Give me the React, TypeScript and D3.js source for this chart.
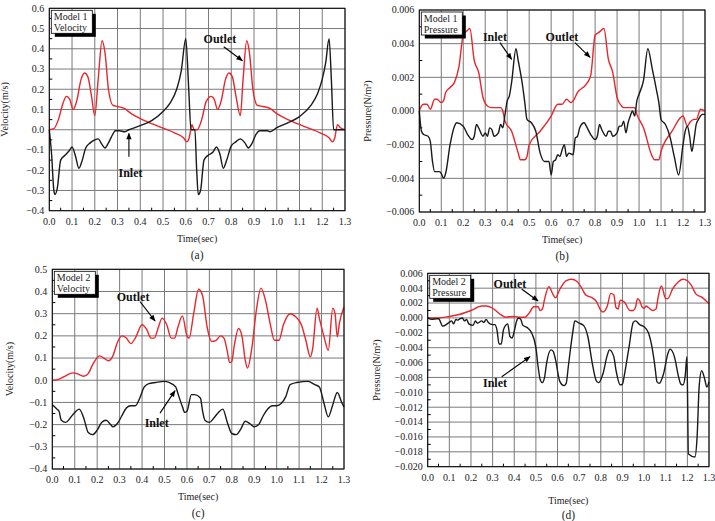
import React from "react";
import * as d3 from "d3";

type Pt = [number, number];

const timeTicks = [0, 0.1, 0.2, 0.3, 0.4, 0.5, 0.6, 0.7, 0.8, 0.9, 1.0, 1.1, 1.2, 1.3];
const velTicksA = [-0.4, -0.3, -0.2, -0.1, 0, 0.1, 0.2, 0.3, 0.4, 0.5, 0.6];
const velTicksC = [-0.4, -0.3, -0.2, -0.1, 0, 0.1, 0.2, 0.3, 0.4, 0.5];
const presTicksB = [-0.006, -0.004, -0.002, 0, 0.002, 0.004, 0.006];
const presTicksD = [
  -0.02, -0.018, -0.016, -0.014, -0.012, -0.01, -0.008, -0.006, -0.004, -0.002, 0, 0.002, 0.004, 0.006,
];

// (a) Model 1 velocity
const aOutlet: Pt[] = [
  [0, 0], [0.02, 0.005], [0.04, 0.05], [0.06, 0.13], [0.075, 0.165], [0.09, 0.15], [0.105, 0.1],
  [0.12, 0.14], [0.14, 0.25], [0.155, 0.28], [0.17, 0.26], [0.185, 0.17], [0.2, 0.07], [0.215, 0.25],
  [0.232, 0.44], [0.245, 0.38], [0.26, 0.2], [0.28, 0.12], [0.3, 0.115], [0.33, 0.105], [0.36, 0.08],
  [0.4, 0.055], [0.45, 0.03], [0.5, 0.008], [0.55, -0.015], [0.59, -0.04], [0.605, -0.06], [0.615, -0.04],
  [0.627, 0.025], [0.637, 0], [0.65, 0], [0.67, 0.05], [0.69, 0.14], [0.712, 0.165], [0.725, 0.15],
  [0.74, 0.1], [0.755, 0.14], [0.775, 0.25], [0.79, 0.28], [0.805, 0.26], [0.82, 0.17], [0.84, 0.07],
  [0.852, 0.25], [0.868, 0.44], [0.88, 0.38], [0.895, 0.2], [0.915, 0.12], [0.94, 0.115], [0.97, 0.105],
  [1.0, 0.08], [1.04, 0.055], [1.09, 0.03], [1.14, 0.008], [1.19, -0.015], [1.23, -0.04], [1.245, -0.06],
  [1.255, -0.04], [1.267, 0.025], [1.28, 0.01], [1.3, 0],
];
const aInlet: Pt[] = [
  [0, 0], [0.01, -0.12], [0.02, -0.3], [0.025, -0.32], [0.035, -0.29], [0.05, -0.15], [0.07, -0.125],
  [0.09, -0.1], [0.1, -0.085], [0.115, -0.13], [0.13, -0.19], [0.145, -0.15], [0.16, -0.09], [0.18, -0.065],
  [0.2, -0.05], [0.215, -0.045], [0.23, -0.07], [0.245, -0.09], [0.26, -0.065], [0.28, -0.02],
  [0.29, -0.005], [0.31, -0.005], [0.33, -0.01], [0.35, 0], [0.4, 0.02], [0.45, 0.045], [0.5, 0.09],
  [0.53, 0.13], [0.56, 0.2], [0.58, 0.29], [0.6, 0.45], [0.613, 0.2], [0.623, 0], [0.64, 0],
  [0.648, -0.2], [0.655, -0.32], [0.665, -0.3], [0.68, -0.15], [0.7, -0.125], [0.72, -0.11],
  [0.735, -0.085], [0.75, -0.12], [0.765, -0.19], [0.78, -0.15], [0.8, -0.08], [0.82, -0.06],
  [0.84, -0.045], [0.86, -0.065], [0.875, -0.09], [0.89, -0.07], [0.91, -0.02], [0.925, -0.005],
  [0.96, -0.005], [0.97, -0.01], [1.0, 0.01], [1.05, 0.035], [1.1, 0.065], [1.15, 0.12], [1.18, 0.18],
  [1.2, 0.25], [1.215, 0.33], [1.23, 0.45], [1.24, 0.25], [1.25, 0], [1.3, 0],
];

// (b) Model 1 pressure
const bOutlet: Pt[] = [
  [0, 0], [0.01, 0.0003], [0.02, 0.0004], [0.035, 0.0004], [0.05, 0.0001], [0.07, 0.0007], [0.08, 0.0007],
  [0.1, 0.0005], [0.11, 0.0006], [0.12, 0.0011], [0.14, 0.0014], [0.16, 0.0017], [0.18, 0.0026],
  [0.2, 0.0045], [0.22, 0.0048], [0.23, 0.0049], [0.25, 0.003], [0.27, 0.0023], [0.29, 0.0008],
  [0.31, 0.0003], [0.33, 0.0002], [0.37, 0.0002], [0.38, 0], [0.39, -0.0006], [0.42, -0.0012],
  [0.45, -0.0025], [0.46, -0.0029], [0.48, -0.0029], [0.49, -0.0027], [0.5, -0.002], [0.55, -0.0012],
  [0.6, -0.0003], [0.63, 0.0004], [0.65, 0.0004], [0.67, 0.0007], [0.69, 0.0005], [0.7, 0.0006],
  [0.72, 0.0011], [0.76, 0.0016], [0.78, 0.0021], [0.8, 0.0045], [0.82, 0.0047], [0.84, 0.0049],
  [0.86, 0.0031], [0.88, 0.0023], [0.9, 0.0008], [0.92, 0.0003], [0.93, 0.0002], [0.98, 0.0002],
  [0.99, -0.0002], [1.02, -0.001], [1.06, -0.0027], [1.07, -0.0029], [1.09, -0.0029], [1.1, -0.0024],
  [1.15, -0.0012], [1.2, -0.0003], [1.22, -0.0009], [1.23, -0.0007], [1.25, -0.0005], [1.26, -0.0005],
  [1.28, 0.0001], [1.3, 0],
];
const bInlet: Pt[] = [
  [0, 0], [0.01, -0.0012], [0.02, -0.0014], [0.04, -0.0015], [0.05, -0.0018], [0.06, -0.003],
  [0.07, -0.0036], [0.09, -0.0036], [0.1, -0.0037], [0.11, -0.004], [0.12, -0.0037], [0.14, -0.002],
  [0.16, -0.0009], [0.17, -0.0007], [0.2, -0.0009], [0.22, -0.0014], [0.24, -0.0017], [0.25, -0.0015],
  [0.26, -0.0008], [0.27, -0.001], [0.29, -0.0015], [0.3, -0.0013], [0.31, -0.0015], [0.32, -0.001],
  [0.33, -0.0011], [0.34, -0.0015], [0.36, -0.0013], [0.37, -0.0008], [0.38, -0.001], [0.39, -0.0002],
  [0.4, 0.0006], [0.41, 0.0009], [0.42, 0.0017], [0.44, 0.0037], [0.45, 0.003], [0.47, 0.0015],
  [0.48, 0.0005], [0.49, -0.0005], [0.51, -0.0007], [0.53, -0.0012], [0.55, -0.0025], [0.57, -0.003],
  [0.59, -0.003], [0.6, -0.0038], [0.61, -0.003], [0.62, -0.0029], [0.63, -0.0026], [0.64, -0.0027],
  [0.65, -0.0023], [0.66, -0.002], [0.67, -0.0027], [0.68, -0.0025], [0.7, -0.0026], [0.71, -0.0016],
  [0.72, -0.0015], [0.73, -0.001], [0.75, -0.0007], [0.76, -0.0009], [0.78, -0.0014], [0.8, -0.0017],
  [0.81, -0.0015], [0.82, -0.0008], [0.83, -0.0011], [0.85, -0.0015], [0.86, -0.0012], [0.87, -0.0012],
  [0.88, -0.0015], [0.9, -0.0013], [0.91, -0.0009], [0.92, -0.0009], [0.93, -0.0006], [0.94, -0.0013],
  [0.95, -0.0007], [0.96, -0.0003], [0.97, 0], [0.98, -0.0003], [0.99, 0.0006], [1.0, 0.001],
  [1.02, 0.0018], [1.04, 0.0037], [1.06, 0.0025], [1.08, 0.0012], [1.09, 0.0005], [1.1, -0.0005],
  [1.12, -0.0008], [1.14, -0.0015], [1.16, -0.0027], [1.18, -0.0038], [1.2, -0.002], [1.21, -0.0012],
  [1.22, -0.0009], [1.23, -0.0015], [1.24, -0.0024], [1.25, -0.0017], [1.26, -0.0008], [1.27, -0.0005],
  [1.29, -0.0002], [1.3, -0.0002],
];

// (c) Model 2 velocity
const cOutlet: Pt[] = [
  [0, 0], [0.03, 0.005], [0.06, 0.02], [0.09, 0.033], [0.11, 0.03], [0.14, 0.018], [0.16, 0.03],
  [0.18, 0.07], [0.21, 0.11], [0.23, 0.1], [0.25, 0.088], [0.27, 0.11], [0.29, 0.17], [0.31, 0.2],
  [0.33, 0.19], [0.35, 0.165], [0.37, 0.19], [0.4, 0.25], [0.42, 0.23], [0.44, 0.19], [0.455, 0.19],
  [0.47, 0.23], [0.49, 0.28], [0.51, 0.25], [0.53, 0.19], [0.545, 0.19], [0.56, 0.24], [0.58, 0.29],
  [0.6, 0.2], [0.61, 0.19], [0.63, 0.3], [0.652, 0.41], [0.67, 0.38], [0.69, 0.24], [0.71, 0.175],
  [0.73, 0.18], [0.75, 0.2], [0.765, 0.19], [0.78, 0.13], [0.79, 0.08], [0.8, 0.085], [0.81, 0.15],
  [0.83, 0.233], [0.845, 0.2], [0.86, 0.09], [0.87, 0.055], [0.89, 0.15], [0.91, 0.32], [0.93, 0.415],
  [0.95, 0.36], [0.97, 0.26], [0.99, 0.18], [1.01, 0.18], [1.03, 0.25], [1.06, 0.3], [1.08, 0.29],
  [1.11, 0.25], [1.13, 0.18], [1.15, 0.105], [1.16, 0.14], [1.18, 0.325], [1.19, 0.28], [1.21, 0.2],
  [1.23, 0.135], [1.25, 0.325], [1.26, 0.3], [1.27, 0.196], [1.28, 0.26], [1.3, 0.33],
];
const cInlet: Pt[] = [
  [0, -0.11], [0.02, -0.13], [0.03, -0.14], [0.04, -0.18], [0.06, -0.19], [0.08, -0.17], [0.1, -0.145],
  [0.12, -0.13], [0.14, -0.17], [0.16, -0.235], [0.18, -0.245], [0.2, -0.225], [0.22, -0.19],
  [0.24, -0.18], [0.26, -0.2], [0.27, -0.21], [0.29, -0.195], [0.31, -0.16], [0.33, -0.125],
  [0.35, -0.115], [0.37, -0.115], [0.39, -0.08], [0.41, -0.03], [0.43, -0.015], [0.46, -0.01],
  [0.5, -0.005], [0.52, -0.01], [0.55, -0.03], [0.56, -0.06], [0.58, -0.12], [0.59, -0.145],
  [0.6, -0.14], [0.62, -0.065], [0.635, -0.065], [0.66, -0.08], [0.67, -0.14], [0.68, -0.18],
  [0.7, -0.19], [0.72, -0.17], [0.74, -0.145], [0.76, -0.13], [0.78, -0.19], [0.8, -0.24], [0.82, -0.245],
  [0.84, -0.22], [0.86, -0.185], [0.88, -0.195], [0.9, -0.21], [0.92, -0.2], [0.94, -0.16], [0.96, -0.13],
  [0.98, -0.115], [1.0, -0.115], [1.02, -0.105], [1.04, -0.075], [1.06, -0.02], [1.09, -0.01],
  [1.14, -0.005], [1.17, -0.02], [1.19, -0.03], [1.21, -0.1], [1.23, -0.165], [1.25, -0.11],
  [1.27, -0.055], [1.29, -0.1], [1.3, -0.12],
];

// (d) Model 2 pressure
const dOutlet: Pt[] = [
  [0, 0], [0.05, 0], [0.1, 0.0002], [0.15, 0.0005], [0.2, 0.001], [0.25, 0.0016], [0.27, 0.0016],
  [0.3, 0.0013], [0.33, 0.0006], [0.36, 0.0001], [0.4, 0.0002], [0.43, 0.0001], [0.45, 0.0001],
  [0.47, 0.0007], [0.49, 0.0015], [0.51, 0.0015], [0.52, 0.001], [0.53, 0.0012], [0.54, 0.0025],
  [0.56, 0.0042], [0.58, 0.0031], [0.59, 0.0027], [0.61, 0.0038], [0.64, 0.005], [0.665, 0.0052],
  [0.69, 0.0049], [0.71, 0.0041], [0.73, 0.0031], [0.76, 0.0027], [0.78, 0.0022], [0.8, 0.001],
  [0.81, 0.0008], [0.83, 0.0016], [0.846, 0.0033], [0.86, 0.0031], [0.87, 0.0014], [0.88, 0.0012],
  [0.89, 0.0024], [0.91, 0.0021], [0.935, 0.001], [0.95, 0.001], [0.96, 0.0014], [0.97, 0.0026],
  [0.98, 0.0023], [0.99, 0.0015], [1.0, 0.0013], [1.01, 0.0016], [1.02, 0.0014], [1.04, 0.001],
  [1.055, 0.0012], [1.065, 0.0028], [1.08, 0.0043], [1.1, 0.0026], [1.11, 0.0026], [1.13, 0.0038],
  [1.16, 0.0049], [1.18, 0.0052], [1.2, 0.005], [1.22, 0.0043], [1.24, 0.0032], [1.266, 0.0028],
  [1.3, 0.0019],
];
const dInlet: Pt[] = [
  [0, 0], [0.02, -0.0002], [0.04, -0.0001], [0.05, -0.0001], [0.07, -0.0011], [0.09, -0.0008],
  [0.1, -0.0006], [0.11, -0.0004], [0.12, -0.0008], [0.13, -0.0002], [0.14, -0.0003], [0.15, -0.0001],
  [0.16, 0], [0.17, -0.0004], [0.18, -0.0002], [0.19, -0.0008], [0.21, -0.001], [0.22, -0.0004],
  [0.23, -0.0007], [0.25, -0.0004], [0.26, -0.0006], [0.27, -0.0002], [0.28, -0.0006], [0.3, -0.0009],
  [0.31, -0.0009], [0.32, -0.0016], [0.33, -0.0035], [0.34, -0.0035], [0.35, -0.0016], [0.36, -0.001],
  [0.37, -0.0008], [0.38, -0.0025], [0.39, -0.0027], [0.4, -0.0018], [0.41, -0.0005], [0.42, 0],
  [0.43, -0.0002], [0.44, -0.001], [0.46, -0.0013], [0.48, -0.002], [0.5, -0.004], [0.51, -0.0065],
  [0.52, -0.0083], [0.53, -0.0087], [0.54, -0.008], [0.55, -0.006], [0.57, -0.0043], [0.58, -0.0045],
  [0.59, -0.0055], [0.61, -0.0085], [0.63, -0.0091], [0.64, -0.0088], [0.65, -0.0065], [0.67, -0.002],
  [0.68, -0.0004], [0.7, -0.0007], [0.72, -0.001], [0.74, -0.0025], [0.76, -0.006], [0.78, -0.0085],
  [0.79, -0.0087], [0.81, -0.0075], [0.83, -0.005], [0.84, -0.0043], [0.86, -0.0052], [0.87, -0.007],
  [0.89, -0.009], [0.9, -0.0089], [0.91, -0.0075], [0.93, -0.004], [0.95, -0.0006], [0.96, -0.0004],
  [0.98, -0.0009], [1.0, -0.0012], [1.02, -0.002], [1.04, -0.0045], [1.05, -0.0065], [1.06, -0.0086],
  [1.07, -0.0088], [1.09, -0.0075], [1.11, -0.0048], [1.12, -0.0042], [1.14, -0.0052], [1.16, -0.008],
  [1.17, -0.0089], [1.18, -0.009], [1.19, -0.0078], [1.198, -0.0052], [1.205, -0.0183], [1.235, -0.0187],
  [1.245, -0.016], [1.255, -0.009], [1.266, -0.0071], [1.28, -0.0082], [1.29, -0.0093], [1.3, -0.0086],
];

type Note = { text: string; tx: number; ty: number; x1: number; y1: number; x2: number; y2: number };

type PanelSpec = {
  left: number;
  right: number;
  top: number;
  bottom: number;
  yTicks: number[];
  digits: number;
  outlet: Pt[];
  inlet: Pt[];
  legend: [string, string];
  yTitle: string;
  yTitleX: number;
  caption: string;
  titleDy: number;
  captionDy: number;
  notes: Note[];
};

const RED = "#e8262b";
const INK = "#1a1a1a";
const GRID = "#7a7a7a";
const FONT = "'Liberation Serif', 'Times New Roman', serif";

function Panel({ p }: { p: PanelSpec }) {
  const yMin = p.yTicks[0];
  const yMax = p.yTicks[p.yTicks.length - 1];
  const x = d3.scaleLinear().domain([0, 1.3]).range([p.left, p.right]);
  const y = d3.scaleLinear().domain([yMin, yMax]).range([p.bottom, p.top]);
  const line = d3
    .line<Pt>()
    .x((d) => x(d[0]))
    .y((d) => y(d[1]))
    .curve(d3.curveMonotoneX);
  const xMinor = timeTicks.slice(1).map((t, i) => (t + timeTicks[i]) / 2);
  const yMinor = p.yTicks.slice(1).map((t, i) => (t + p.yTicks[i]) / 2);
  const fmt = d3.format(`.${p.digits}f`);
  const midY = (p.top + p.bottom) / 2;

  return (
    <g fontFamily={FONT}>
      <rect x={p.left} y={p.top} width={p.right - p.left} height={p.bottom - p.top} fill="#fff" />
      {timeTicks.map((t) => (
        <line key={"gx" + t} x1={x(t)} x2={x(t)} y1={p.top} y2={p.bottom} stroke={GRID} strokeWidth={1} />
      ))}
      {p.yTicks.map((t) => (
        <line key={"gy" + t} x1={p.left} x2={p.right} y1={y(t)} y2={y(t)} stroke={GRID} strokeWidth={1} />
      ))}
      {xMinor.map((t) => (
        <line key={"mx" + t} x1={x(t)} x2={x(t)} y1={p.bottom} y2={p.bottom - 3} stroke="#000" />
      ))}
      {yMinor.map((t) => (
        <line key={"my" + t} x1={p.left} x2={p.left + 3} y1={y(t)} y2={y(t)} stroke="#000" />
      ))}
      <path d={line(p.outlet) || ""} fill="none" stroke={RED} strokeWidth={1.4} />
      <path d={line(p.inlet) || ""} fill="none" stroke={INK} strokeWidth={1.4} />
      <rect
        x={p.left}
        y={p.top}
        width={p.right - p.left}
        height={p.bottom - p.top}
        fill="none"
        stroke="#000"
        strokeWidth={1}
      />
      {timeTicks.map((t) => (
        <text key={"tx" + t} x={x(t)} y={p.bottom + 14} fontSize={10} textAnchor="middle" fill="#222">
          {t.toFixed(1)}
        </text>
      ))}
      {p.yTicks.map((t) => (
        <text
          key={"ty" + t}
          x={p.left - 5}
          y={y(t) + 3.4}
          fontSize={10}
          textAnchor="end"
          fill="#222"
        >
          {fmt(t)}
        </text>
      ))}
      <text x={(p.left + p.right) / 2} y={p.bottom + p.titleDy} fontSize={10} textAnchor="middle" fill="#222">
        Time(sec)
      </text>
      <text x={(p.left + p.right) / 2} y={p.bottom + p.captionDy} fontSize={11.5} textAnchor="middle" fill="#222">
        {p.caption}
      </text>
      <text
        transform={`translate(${p.yTitleX},${midY}) rotate(-90)`}
        fontSize={10}
        textAnchor="middle"
        fill="#222"
      >
        {p.yTitle}
      </text>
      {/* legend box */}
      <rect x={p.left + 5.5} y={p.top + 5.5} width={41} height={23} fill="#000" />
      <rect x={p.left + 2} y={p.top + 2} width={41} height={23} fill="#fff" stroke="#000" strokeWidth={0.8} />
      <text x={p.left + 4.5} y={p.top + 12} fontSize={10} fill="#222">
        {p.legend[0]}
      </text>
      <text x={p.left + 4.5} y={p.top + 22.5} fontSize={10} fill="#222">
        {p.legend[1]}
      </text>
      {p.notes.map((n) => (
        <g key={n.text}>
          <text x={x(n.tx)} y={y(n.ty) + 4} fontSize={12} fontWeight="bold" textAnchor="middle" fill="#111">
            {n.text}
          </text>
          <line
            x1={x(n.x1)}
            y1={y(n.y1)}
            x2={x(n.x2)}
            y2={y(n.y2)}
            stroke="#000"
            strokeWidth={1.1}
            markerEnd="url(#arrow)"
          />
        </g>
      ))}
    </g>
  );
}

const panels: PanelSpec[] = [
  {
    left: 49.3, right: 345, top: 8.3, bottom: 210.7,
    yTicks: velTicksA, digits: 1, outlet: aOutlet, inlet: aInlet,
    legend: ["Model 1", "Velocity"], yTitle: "Velocity(m/s)", yTitleX: 8,
    caption: "(a)", titleDy: 31, captionDy: 48,
    notes: [
      { text: "Outlet", tx: 0.75, ty: 0.448, x1: 0.767, y1: 0.41, x2: 0.849, y2: 0.341 },
      { text: "Inlet", tx: 0.357, ty: -0.214, x1: 0.35, y1: -0.133, x2: 0.35, y2: -0.018 },
    ],
  },
  {
    left: 419.3, right: 705, top: 10, bottom: 212,
    yTicks: presTicksB, digits: 3, outlet: bOutlet, inlet: bInlet,
    legend: ["Model 1", "Pressure"], yTitle: "Pressure(N/m²)", yTitleX: 371,
    caption: "(b)", titleDy: 31, captionDy: 48,
    notes: [
      { text: "Inlet", tx: 0.344, ty: 0.0044, x1: 0.367, y1: 0.00406, x2: 0.42, y2: 0.00307 },
      { text: "Outlet", tx: 0.649, ty: 0.0044, x1: 0.708, y1: 0.00406, x2: 0.777, y2: 0.00319 },
    ],
  },
  {
    left: 52.3, right: 344, top: 269.3, bottom: 469,
    yTicks: velTicksC, digits: 1, outlet: cOutlet, inlet: cInlet,
    legend: ["Model 2", "Velocity"], yTitle: "Velocity(m/s)", yTitleX: 13,
    caption: "(c)", titleDy: 31, captionDy: 48,
    notes: [
      { text: "Outlet", tx: 0.36, ty: 0.374, x1: 0.391, y1: 0.354, x2: 0.458, y2: 0.267 },
      { text: "Inlet", tx: 0.465, ty: -0.191, x1: 0.48, y1: -0.148, x2: 0.547, y2: -0.047 },
    ],
  },
  {
    left: 427.7, right: 709, top: 273.3, bottom: 466.7,
    yTicks: presTicksD, digits: 3, outlet: dOutlet, inlet: dInlet,
    legend: ["Model 2", "Pressure"], yTitle: "Pressure(N/m²)", yTitleX: 380,
    caption: "(d)", titleDy: 37, captionDy: 52,
    notes: [
      { text: "Outlet", tx: 0.38, ty: 0.00456, x1: 0.434, y1: 0.00389, x2: 0.51, y2: 0.00228 },
      { text: "Inlet", tx: 0.311, ty: -0.0087, x1: 0.342, y1: -0.0079, x2: 0.473, y2: -0.0052 },
    ],
  },
];

export default function App() {
  return (
    <svg
      width={715}
      height={521}
      viewBox="0 0 715 521"
      style={{ position: "absolute", left: 0, top: 0, background: "#fff" }}
    >
      <defs>
        <marker id="arrow" viewBox="0 0 10 10" refX={9} refY={5} markerWidth={7} markerHeight={6} orient="auto">
          <path d="M0,1 L10,5 L0,9 Z" fill="#000" />
        </marker>
      </defs>
      {panels.map((p) => (
        <Panel key={p.caption} p={p} />
      ))}
    </svg>
  );
}
